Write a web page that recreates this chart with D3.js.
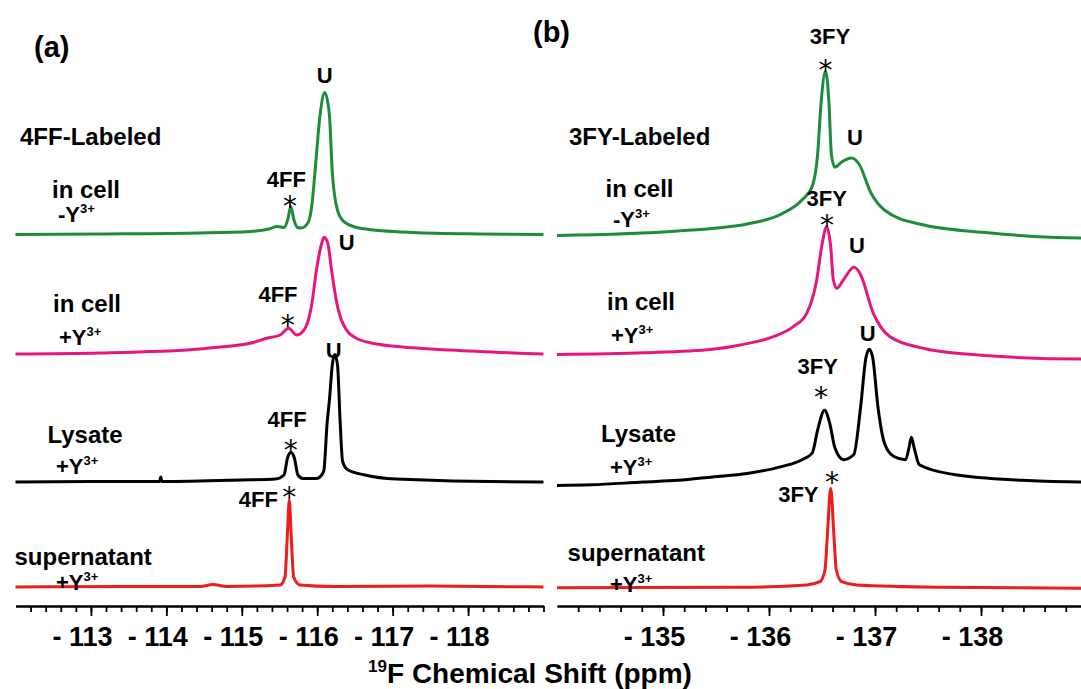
<!DOCTYPE html>
<html>
<head>
<meta charset="utf-8">
<script src="https://cdn.jsdelivr.net/npm/d3@7"></script>
<style>
  body { margin: 0; background: #fff; }
  text { font-family: "Liberation Sans", Arial, sans-serif; font-weight: bold; fill: #000; }
</style>
</head>
<body>
<div id="chart"></div>
<script>
// tick labels of the two panels (ppm)
const ticksA = [-113, -114, -115, -116, -117, -118];
const ticksB = [-135, -136, -137, -138];

// spectra, [ppm, intensity (a.u.)]
// (a) 4FF-labeled
const aCellNoY = [[-112.00,0],[-113.12,0.5],[-114.45,1.5],[-115.11,3],[-115.36,5.5],[-115.47,8],[-115.56,7],[-115.61,15],[-115.65,28],[-115.69,15],[-115.74,7],[-115.79,6.5],[-115.88,12],[-115.93,30],[-115.97,62],[-116.04,121],[-116.10,142],[-116.16,121],[-116.20,62],[-116.27,24],[-116.36,12.5],[-116.59,6],[-117.27,2],[-118.16,0.5],[-119.00,0]];
const aCellY = [[-112.00,0],[-113.12,1],[-114.45,5],[-114.71,7],[-115.11,10.7],[-115.33,15.7],[-115.51,19],[-115.62,25.7],[-115.73,19],[-115.84,25.7],[-115.93,50.7],[-115.99,84],[-116.06,110.7],[-116.09,116.7],[-116.14,110.7],[-116.19,84],[-116.26,50.7],[-116.35,29],[-116.52,15.7],[-116.79,10],[-117.10,7.3],[-117.76,4],[-119.00,0]];
const aLysate = [[-112.00,0],[-113.00,0.5],[-113.908,0.5],[-113.926,5],[-113.94,0.5],[-114.99,2],[-115.447,3],[-115.56,7],[-115.606,24],[-115.652,29.4],[-115.697,24],[-115.744,7],[-115.81,3.6],[-115.994,3.6],[-116.086,10.5],[-116.131,58.7],[-116.163,82.8],[-116.20,117],[-116.232,127.6],[-116.269,117],[-116.305,58.7],[-116.336,20.8],[-116.405,12.2],[-116.633,7],[-117.044,3],[-118.953,0],[-119.00,0]];
const aSuper = [[-112.00,0],[-113.50,0.5],[-114.45,0.5],[-114.618,2.5],[-114.80,0.5],[-115.507,2],[-115.573,10],[-115.603,50],[-115.630,87],[-115.656,50],[-115.688,10],[-115.772,2],[-116.213,0.5],[-117.50,1],[-119.00,0]];
// (b) 3FY-labeled
const bCellNoY = [[-134.00,2.5],[-135.142,7],[-135.792,14],[-136.117,24],[-136.311,38],[-136.409,52],[-136.458,83],[-136.491,134.6],[-136.533,166.6],[-136.566,134.6],[-136.589,83],[-136.621,70.8],[-136.686,76],[-136.777,80],[-136.849,74],[-136.962,45],[-137.092,27.7],[-137.418,14],[-138.069,5.2],[-138.941,0],[-139.00,0]];
const bCellY = [[-134.00,4.5],[-134.815,6.2],[-135.466,9.7],[-135.726,14],[-136.041,22.3],[-136.229,32.3],[-136.356,45.7],[-136.450,79],[-136.497,112.3],[-136.544,132.3],[-136.582,112.3],[-136.607,79],[-136.639,70.7],[-136.701,79],[-136.802,91.7],[-136.858,85.7],[-136.984,45.7],[-137.142,22.3],[-137.456,10.7],[-137.771,5.7],[-138.941,0],[-139.00,0]];
const bLysate = [[-134.00,0.5],[-134.327,1.2],[-134.815,4],[-135.142,5.7],[-135.466,9.1],[-135.792,12.6],[-136.117,19.4],[-136.311,26.3],[-136.409,33.2],[-136.458,55.7],[-136.524,75.7],[-136.573,62.6],[-136.621,38.4],[-136.702,26.3],[-136.800,31.5],[-136.865,79.8],[-136.914,128],[-136.946,136.7],[-136.979,128],[-137.027,79.8],[-137.092,41.9],[-137.174,29.8],[-137.288,26.3],[-137.321,38.4],[-137.343,48.8],[-137.369,38.4],[-137.418,21.2],[-137.743,11.5],[-138.394,5.7],[-138.941,4],[-139.00,4]];
const bSuper = [[-134.00,0.5],[-135.726,1],[-136.356,3.3],[-136.481,6.6],[-136.528,18.3],[-136.550,51.6],[-136.582,100],[-136.613,51.6],[-136.635,18.3],[-136.686,6.6],[-136.827,3.3],[-137.613,1],[-139.00,0]];

const width = 1081, height = 689;
const svg = d3.select("#chart").append("svg")
    .attr("width", width)
    .attr("height", height);

// two panels share the axis baseline
const axisY = 606;
const panels = [
  { x: d3.scaleLinear().domain([-112, -119]).range([15.5, 543.5]), ticks: ticksA },
  { x: d3.scaleLinear().domain([-134, -139]).range([557, 1087]), ticks: ticksB }
];

// intensity scale (a.u. -> px above the trace's own baseline)
const yInt = d3.scaleLinear().domain([0, 100]).range([0, -100]);

const traces = [
  { data: aCellNoY, p: 0, base: 234.5, color: "#1f8c3b" },
  { data: aCellY,   p: 0, base: 354,   color: "#e5177e" },
  { data: aLysate,  p: 0, base: 482,   color: "#000000" },
  { data: aSuper,   p: 0, base: 587,   color: "#ee1c1c" },
  { data: bCellNoY, p: 1, base: 238,   color: "#1f8c3b" },
  { data: bCellY,   p: 1, base: 359,   color: "#e5177e" },
  { data: bLysate,  p: 1, base: 486,   color: "#000000" },
  { data: bSuper,   p: 1, base: 588.3, color: "#ee1c1c" }
];

traces.forEach(t => {
  const x = panels[t.p].x;
  const line = d3.line()
      .x(d => x(d[0]))
      .y(d => t.base + yInt(d[1]))
      .curve(d3.curveMonotoneX);
  svg.append("path")
      .datum(t.data)
      .attr("d", line)
      .attr("fill", "none")
      .attr("stroke", t.color)
      .attr("stroke-width", 3)
      .attr("stroke-linejoin", "round");
});

// axes: minor ticks every 0.2 ppm, labelled major ticks
panels.forEach(pn => {
  const [d0, d1] = pn.x.domain();
  const minor = d3.range(Math.round(-d0 * 5) + 1, Math.round(-d1 * 5) + 1).map(k => -k / 5);
  const gMinor = svg.append("g")
      .attr("transform", `translate(0,${axisY})`)
      .call(d3.axisBottom(pn.x).tickValues(minor).tickSize(6).tickSizeOuter(0).tickFormat(""));
  const gMajor = svg.append("g")
      .attr("transform", `translate(0,${axisY})`)
      .call(d3.axisBottom(pn.x).tickValues(pn.ticks).tickSize(10).tickSizeOuter(0)
        .tickFormat(d => "- " + Math.abs(d)));
  [gMinor, gMajor].forEach(g => {
    g.select(".domain").attr("stroke", "#000").attr("stroke-width", 2);
    g.selectAll(".tick line").attr("stroke", "#000").attr("stroke-width", 1.8);
  });
  gMajor.selectAll(".tick text")
      .attr("y", 40)
      .attr("dy", 0)
      .attr("dx", -9)
      .style("font-size", "27px")
      .style("font-family", "\"Liberation Sans\", Arial, sans-serif")
      .style("font-weight", "bold")
      .attr("fill", "#000");
});

// axis title
const title = svg.append("text")
    .attr("x", 530)
    .attr("y", 683)
    .attr("text-anchor", "middle")
    .style("font-size", "28px");
title.append("tspan").attr("dy", -11).style("font-size", "17px").text("19");
title.append("tspan").attr("dy", 11).text("F Chemical Shift (ppm)");

// sample descriptions at the left of each trace
const sideLabels = [
  { x: 34, y: 57, t: "(a)", s: 29 },
  { x: 20, y: 145, t: "4FF-Labeled", s: 24 },
  { x: 52, y: 198, t: "in cell", s: 24 },
  { x: 58, y: 222, t: "-Y", sup: "3+", s: 22 },
  { x: 53, y: 312, t: "in cell", s: 24 },
  { x: 59, y: 345, t: "+Y", sup: "3+", s: 22 },
  { x: 47.5, y: 443, t: "Lysate", s: 24 },
  { x: 56, y: 474, t: "+Y", sup: "3+", s: 22 },
  { x: 14.5, y: 564.5, t: "supernatant", s: 24 },
  { x: 56, y: 590, t: "+Y", sup: "3+", s: 22 },
  { x: 533, y: 42, t: "(b)", s: 29 },
  { x: 569, y: 145, t: "3FY-Labeled", s: 24 },
  { x: 605.5, y: 196.5, t: "in cell", s: 24 },
  { x: 613, y: 227, t: "-Y", sup: "3+", s: 22 },
  { x: 607, y: 310, t: "in cell", s: 24 },
  { x: 611, y: 343, t: "+Y", sup: "3+", s: 22 },
  { x: 601, y: 442, t: "Lysate", s: 24 },
  { x: 610, y: 475, t: "+Y", sup: "3+", s: 22 },
  { x: 567.6, y: 561, t: "supernatant", s: 24 },
  { x: 610, y: 592, t: "+Y", sup: "3+", s: 22 }
];
sideLabels.forEach(l => {
  const txt = svg.append("text")
      .attr("x", l.x)
      .attr("y", l.y)
      .style("font-size", l.s + "px")
      .text(l.t);
  if (l.sup) {
    txt.append("tspan").attr("dy", -9).style("font-size", "13px").text(l.sup);
  }
});

// peak assignments (x in ppm)
const peakLabels = [
  { p: 0, ppm: -116.10, y: 83, t: "U" },
  { p: 0, ppm: -115.59, y: 187, t: "4FF" },
  { p: 0, ppm: -116.39, y: 250, t: "U" },
  { p: 0, ppm: -115.48, y: 302, t: "4FF" },
  { p: 0, ppm: -116.22, y: 358, t: "U" },
  { p: 0, ppm: -115.60, y: 427, t: "4FF" },
  { p: 0, ppm: -115.22, y: 506.7, t: "4FF" },
  { p: 1, ppm: -136.575, y: 44, t: "3FY" },
  { p: 1, ppm: -136.81, y: 145, t: "U" },
  { p: 1, ppm: -136.544, y: 205.5, t: "3FY" },
  { p: 1, ppm: -136.83, y: 253, t: "U" },
  { p: 1, ppm: -136.46, y: 374, t: "3FY" },
  { p: 1, ppm: -136.93, y: 341, t: "U" },
  { p: 1, ppm: -136.277, y: 501.7, t: "3FY" }
];
peakLabels.forEach(l => {
  svg.append("text")
      .attr("x", panels[l.p].x(l.ppm))
      .attr("y", l.y)
      .attr("text-anchor", "middle")
      .style("font-size", "22px")
      .text(l.t);
});

// asterisks marking the free amino acid
const stars = [
  { p: 0, ppm: -115.64, y: 199 },
  { p: 0, ppm: -115.61, y: 318 },
  { p: 0, ppm: -115.65, y: 443 },
  { p: 0, ppm: -115.63, y: 490 },
  { p: 1, ppm: -136.533, y: 63 },
  { p: 1, ppm: -136.547, y: 217.5 },
  { p: 1, ppm: -136.49, y: 390 },
  { p: 1, ppm: -136.594, y: 475 }
];
stars.forEach(s => {
  svg.append("text")
      .attr("x", panels[s.p].x(s.ppm))
      .attr("y", s.y + 17)
      .attr("text-anchor", "middle")
      .style("font-family", "\"DejaVu Sans\", sans-serif")
      .style("font-weight", "normal")
      .style("font-size", "28px")
      .attr("fill", "#444")
      .text("*");
});
</script>
</body>
</html>
